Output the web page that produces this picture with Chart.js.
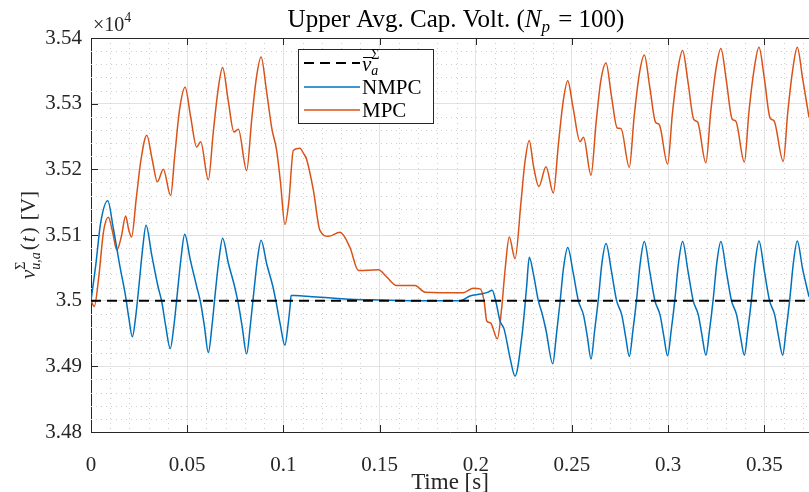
<!DOCTYPE html>
<html>
<head>
<meta charset="utf-8">
<script src="https://cdn.jsdelivr.net/npm/chart.js@4/dist/chart.umd.min.js"></script>
<style>
  html, body { margin: 0; padding: 0; background: #fff; }
</style>
</head>
<body>
<canvas id="chart" width="809" height="492"></canvas>
<script>
// time [s] and voltage [V]
const refTime = [0, 0.3732];
const refVolt = [35000, 35000];

const nmpcTime = [
  0, 0.0025, 0.005, 0.0087, 0.0115, 0.0151, 0.0178, 0.0196, 0.0215, 0.0232, 0.025, 0.0268,
  0.0286, 0.0316, 0.0348, 0.0368, 0.0388, 0.0412, 0.0431, 0.045, 0.0468,
  0.0487, 0.0517, 0.0549, 0.0569, 0.0589, 0.061, 0.0629, 0.0647, 0.0666,
  0.0684, 0.0714, 0.0746, 0.0764, 0.0785, 0.0809, 0.0828, 0.0847, 0.0866,
  0.0884, 0.0914, 0.0945, 0.0962, 0.0983, 0.1008, 0.1025, 0.1036, 0.104, 0.106,
  0.115, 0.125, 0.135, 0.15, 0.17, 0.192, 0.197, 0.2025, 0.2065, 0.2085,
  0.2105, 0.2126, 0.2147, 0.2178, 0.2204, 0.2239, 0.2264,
  0.2278, 0.23, 0.2325, 0.2345, 0.2365, 0.24, 0.2419, 0.2438, 0.2457,
  0.2478, 0.2506, 0.2533, 0.256, 0.258, 0.2599, 0.2618, 0.2637, 0.2656,
  0.2677, 0.2705, 0.2732, 0.2759, 0.2779, 0.2798, 0.2817, 0.2836, 0.2855,
  0.2876, 0.2904, 0.2931, 0.2958, 0.2978, 0.2997, 0.3016, 0.3035, 0.3054,
  0.3075, 0.3103, 0.313, 0.3157, 0.3177, 0.3196, 0.3215, 0.3234, 0.3253,
  0.3274, 0.3302, 0.3329, 0.3356, 0.3376, 0.3396, 0.3414, 0.3433, 0.3452,
  0.3472, 0.35, 0.3527, 0.3554, 0.3574, 0.3595, 0.3613, 0.3632, 0.3651,
  0.3671, 0.3699, 0.3732
];
const nmpcVolt = [
  35000, 35055, 35118, 35152, 35112, 35051, 35010, 34975, 34945, 34975, 35025, 35078,
  35115, 35069, 35022, 34998, 34962, 34927, 34962, 35015, 35065,
  35101, 35061, 35022, 34998, 34962, 34921, 34962, 35015, 35065,
  35095, 35057, 35022, 34998, 34962, 34919, 34962, 35015, 35065,
  35092, 35055, 35022, 34998, 34965, 34932, 34965, 34995, 35008, 35008,
  35006, 35004, 35002, 35001, 35000, 35000, 35007, 35010, 35013, 35016,
  34998, 34969, 34957, 34913, 34885, 34944, 35020,
  35066, 35040, 35000, 34980, 34955, 34904, 34948, 34998, 35052,
  35081, 35043, 35000, 34978, 34945, 34911, 34955, 35002, 35058,
  35087, 35045, 35000, 34978, 34945, 34915, 34955, 35002, 35058,
  35090, 35045, 35000, 34978, 34945, 34916, 34955, 35002, 35058,
  35090, 35045, 35000, 34978, 34945, 34917, 34955, 35002, 35058,
  35090, 35045, 35000, 34978, 34945, 34917, 34955, 35002, 35058,
  35091, 35045, 35000, 34978, 34945, 34917, 34955, 35002, 35058,
  35091, 35048, 35006
];

const mpcTime = [
  0, 0.0017, 0.004, 0.0065, 0.009, 0.0112, 0.0134, 0.0158, 0.018, 0.0196, 0.0211,
  0.0235, 0.026, 0.029, 0.0318, 0.0345, 0.0376, 0.0414, 0.0435, 0.046,
  0.0489, 0.0518, 0.0549, 0.057, 0.061, 0.0635, 0.066,
  0.0684, 0.0713, 0.0743, 0.0766, 0.0809, 0.0835, 0.086,
  0.0884, 0.0912, 0.094, 0.0965, 0.0985, 0.1008, 0.1028, 0.1052, 0.1086, 0.1105,
  0.1121, 0.1156, 0.119, 0.1234, 0.1294, 0.1346, 0.139, 0.1494, 0.1537, 0.1589,
  0.1684, 0.1736, 0.1935, 0.1987, 0.2022, 0.2043, 0.2057, 0.2077, 0.2112, 0.2135,
  0.2152, 0.2174, 0.2204, 0.2235, 0.2255, 0.2278, 0.23, 0.2328, 0.2365, 0.2403,
  0.243, 0.2455, 0.2478, 0.2505, 0.2542, 0.256, 0.2599, 0.2625, 0.265,
  0.2677, 0.2705, 0.2735, 0.2755, 0.2798, 0.2823, 0.285,
  0.2876, 0.2904, 0.2934, 0.2954, 0.2997, 0.3022, 0.3049,
  0.3075, 0.3103, 0.3133, 0.3153, 0.3196, 0.3221, 0.3248,
  0.3274, 0.3302, 0.3332, 0.3352, 0.3396, 0.342, 0.3447,
  0.3472, 0.35, 0.353, 0.355, 0.3598, 0.3622, 0.3648,
  0.3671, 0.3699, 0.3732
];
const mpcVolt = [
  35000, 34991, 35035, 35105, 35127, 35105, 35077, 35098, 35129, 35108, 35097,
  35155, 35215, 35252, 35215, 35181, 35200, 35160, 35220, 35290,
  35325, 35280, 35234, 35242, 35184, 35255, 35320,
  35355, 35305, 35257, 35261, 35198, 35275, 35340,
  35371, 35320, 35262, 35229, 35180, 35116, 35150, 35229, 35232, 35224,
  35215, 35168, 35107, 35098, 35104, 35081, 35046, 35047, 35036, 35023,
  35023, 35013, 35012, 35019, 35018, 35000, 34969, 34966, 34942, 34990,
  35046, 35097, 35064, 35150, 35210, 35244, 35205, 35174, 35204, 35164,
  35240, 35305, 35335, 35295, 35242, 35249, 35191, 35270, 35335,
  35362, 35312, 35263, 35262, 35203, 35280, 35345,
  35374, 35326, 35272, 35268, 35208, 35285, 35350,
  35381, 35333, 35276, 35272, 35210, 35287, 35352,
  35384, 35336, 35277, 35273, 35211, 35288, 35353,
  35386, 35338, 35278, 35274, 35212, 35288, 35353,
  35386, 35338, 35279
];

const xTickValues = [0, 0.05, 0.1, 0.15, 0.2, 0.25, 0.3, 0.35];
const xTickLabels = ['0', '0.05', '0.1', '0.15', '0.2', '0.25', '0.3', '0.35'];
const yTickValues = [34800, 34900, 35000, 35100, 35200, 35300, 35400];
const yTickLabels = ['3.48', '3.49', '3.5', '3.51', '3.52', '3.53', '3.54'];

const serif = "'Liberation Serif', 'Times New Roman', serif";
const axisColor = '#262626';
const R = s => s + 'px ' + serif;
const I = s => 'italic ' + s + 'px ' + serif;

function toPoints(xs, ys) {
  return xs.map((x, i) => ({ x: x, y: ys[i] }));
}

// lay out text made of pieces (sub/superscripts), stack=true puts a piece over the previous one
function layoutRich(ctx, parts) {
  let x = 0, prevStart = 0, prevW = 0;
  const items = [];
  for (const p of parts) {
    ctx.font = p.f;
    const w = ctx.measureText(p.t).width + (p.dx || 0);
    if (p.stack) {
      items.push(Object.assign({}, p, { x: prevStart }));
      prevW = Math.max(prevW, w);
      x = prevStart + prevW;
    } else {
      items.push(Object.assign({}, p, { x: x }));
      prevStart = x;
      prevW = w;
      x += w;
    }
  }
  return { items: items, width: x };
}

function drawRich(ctx, parts, x, y, align) {
  const lay = layoutRich(ctx, parts);
  const x0 = align === 'center' ? x - lay.width / 2 : x;
  ctx.textAlign = 'left';
  ctx.textBaseline = 'alphabetic';
  for (const it of lay.items) {
    ctx.font = it.f;
    ctx.fillText(it.t, x0 + it.x + (it.dx || 0), y + (it.dy || 0));
  }
  return x0;
}

const decor = {
  id: 'decor',
  beforeDatasetsDraw(chart) {
    const { ctx, chartArea: a, scales: { x, y } } = chart;
    ctx.save();
    ctx.strokeStyle = '#cfcfcf';
    ctx.lineWidth = 1;
    ctx.setLineDash([1, 4]);
    ctx.beginPath();
    for (let i = 1; i < 38; i++) {
      if (i % 5 === 0) continue;
      const px = Math.round(x.getPixelForValue(i / 100)) + 0.5;
      ctx.moveTo(px, a.top);
      ctx.lineTo(px, a.bottom);
    }
    for (let v = 34820; v < 35400; v += 20) {
      if (v % 100 === 0) continue;
      const py = Math.round(y.getPixelForValue(v)) + 0.5;
      ctx.moveTo(a.left, py);
      ctx.lineTo(a.right, py);
    }
    ctx.stroke();
    ctx.restore();
  },
  afterDatasetsDraw(chart) {
    const { ctx, chartArea: a, scales: { x, y } } = chart;
    ctx.save();
    ctx.strokeStyle = axisColor;
    ctx.lineWidth = 1;
    ctx.beginPath();
    ctx.moveTo(a.left, a.top + 0.5);
    ctx.lineTo(a.right, a.top + 0.5);
    for (const v of xTickValues) {
      const px = Math.round(x.getPixelForValue(v)) + 0.5;
      ctx.moveTo(px, a.bottom);
      ctx.lineTo(px, a.bottom - 7);
      ctx.moveTo(px, a.top);
      ctx.lineTo(px, a.top + 7);
    }
    for (const v of yTickValues) {
      const py = Math.round(y.getPixelForValue(v)) + 0.5;
      ctx.moveTo(a.left, py);
      ctx.lineTo(a.left + 7, py);
    }
    ctx.stroke();
    ctx.restore();
  },
  afterDraw(chart) {
    const { ctx, chartArea: a } = chart;
    const ds = chart.data.datasets;
    ctx.save();
    ctx.fillStyle = '#000';

    // title
    drawRich(ctx, [
      { t: 'Upper Avg. Cap. Volt. (', f: R(25) },
      { t: 'N', f: I(25) },
      { t: 'p', f: I(17), dy: 5 },
      { t: ' = 100)', f: R(25), dx: 2 }
    ], 456, 27, 'center');

    // exponent
    ctx.fillStyle = axisColor;
    drawRich(ctx, [
      { t: '\u00d710', f: R(20) },
      { t: '4', f: R(14), dy: -9 }
    ], 93, 31, 'left');

    // x title
    drawRich(ctx, [{ t: 'Time [s]', f: R(23) }], (a.left + a.right) / 2, 489, 'center');

    // y title
    ctx.save();
    ctx.translate(35, (a.top + a.bottom) / 2);
    ctx.rotate(-Math.PI / 2);
    drawRich(ctx, [
      { t: 'v', f: I(21) },
      { t: '\u03a3', f: R(14), dy: -10 },
      { t: 'u,a', f: I(14), dy: 5, stack: true },
      { t: '(', f: R(21), dx: 2 },
      { t: 't', f: I(21), dx: 1 },
      { t: ')', f: R(21), dx: 2 },
      { t: ' [V]', f: R(21), dx: 2 }
    ], 0, 0, 'center');
    ctx.restore();

    // legend
    const bx = 298.5, by = 49.5, bw = 135, bh = 74;
    ctx.fillStyle = '#fff';
    ctx.fillRect(bx, by, bw, bh);
    ctx.strokeStyle = axisColor;
    ctx.lineWidth = 1;
    ctx.strokeRect(bx, by, bw, bh);
    const rows = [63, 87, 110];
    ds.forEach((d, i) => {
      ctx.save();
      ctx.strokeStyle = d.borderColor;
      ctx.lineWidth = d.borderWidth;
      ctx.setLineDash(d.borderDash || []);
      ctx.beginPath();
      ctx.moveTo(304, rows[i]);
      ctx.lineTo(360, rows[i]);
      ctx.stroke();
      ctx.restore();
    });
    ctx.fillStyle = '#000';
    const lx = drawRich(ctx, [
      { t: 'v', f: I(21) },
      { t: '\u03a3', f: R(14), dy: -12 },
      { t: 'a', f: I(14), dy: 4, stack: true }
    ], 362, 71, 'left');
    ctx.strokeStyle = '#000';
    ctx.lineWidth = 1;
    ctx.beginPath();
    ctx.moveTo(lx + 1, 57.5);
    ctx.lineTo(lx + 11, 57.5);
    ctx.stroke();
    drawRich(ctx, [{ t: ds[1].label, f: R(21) }], 362, 94, 'left');
    drawRich(ctx, [{ t: ds[2].label, f: R(21) }], 362, 117, 'left');
    ctx.restore();
  }
};

const ctx = document.getElementById('chart').getContext('2d');
new Chart(ctx, {
  type: 'line',
  data: {
    datasets: [
      {
        label: 'ref',
        data: toPoints(refTime, refVolt),
        borderColor: '#000000',
        borderWidth: 2,
        borderDash: [10, 6],
        pointRadius: 0,
        tension: 0
      },
      {
        label: 'NMPC',
        data: toPoints(nmpcTime, nmpcVolt),
        borderColor: '#0072BD',
        borderWidth: 1.5,
        pointRadius: 0,
        cubicInterpolationMode: 'monotone'
      },
      {
        label: 'MPC',
        data: toPoints(mpcTime, mpcVolt),
        borderColor: '#D95319',
        borderWidth: 1.5,
        pointRadius: 0,
        cubicInterpolationMode: 'monotone'
      }
    ]
  },
  options: {
    responsive: false,
    animation: false,
    devicePixelRatio: 1,
    layout: { padding: { top: 38, left: 0, right: 0, bottom: 0 } },
    plugins: { legend: { display: false }, tooltip: { enabled: false }, title: { display: false } },
    scales: {
      x: {
        type: 'linear',
        min: 0,
        max: 0.3732,
        afterBuildTicks: s => { s.ticks = xTickValues.map(v => ({ value: v })); },
        afterFit: s => { s.height = 60; },
        ticks: {
          autoSkip: false,
          maxRotation: 0,
          padding: 21,
          color: axisColor,
          font: { family: serif, size: 21 },
          callback: (v, i) => xTickLabels[i]
        },
        grid: { color: '#e2e2e2', lineWidth: 1, drawTicks: false },
        border: { color: axisColor, width: 1 }
      },
      y: {
        min: 34800,
        max: 35400,
        afterBuildTicks: s => { s.ticks = yTickValues.map(v => ({ value: v })); },
        afterFit: s => { s.width = 91; },
        ticks: {
          autoSkip: false,
          padding: 9,
          color: axisColor,
          font: { family: serif, size: 21 },
          callback: (v, i) => yTickLabels[i]
        },
        grid: { color: '#e2e2e2', lineWidth: 1, drawTicks: false },
        border: { color: axisColor, width: 1 }
      }
    }
  },
  plugins: [decor]
});
</script>
</body>
</html>
